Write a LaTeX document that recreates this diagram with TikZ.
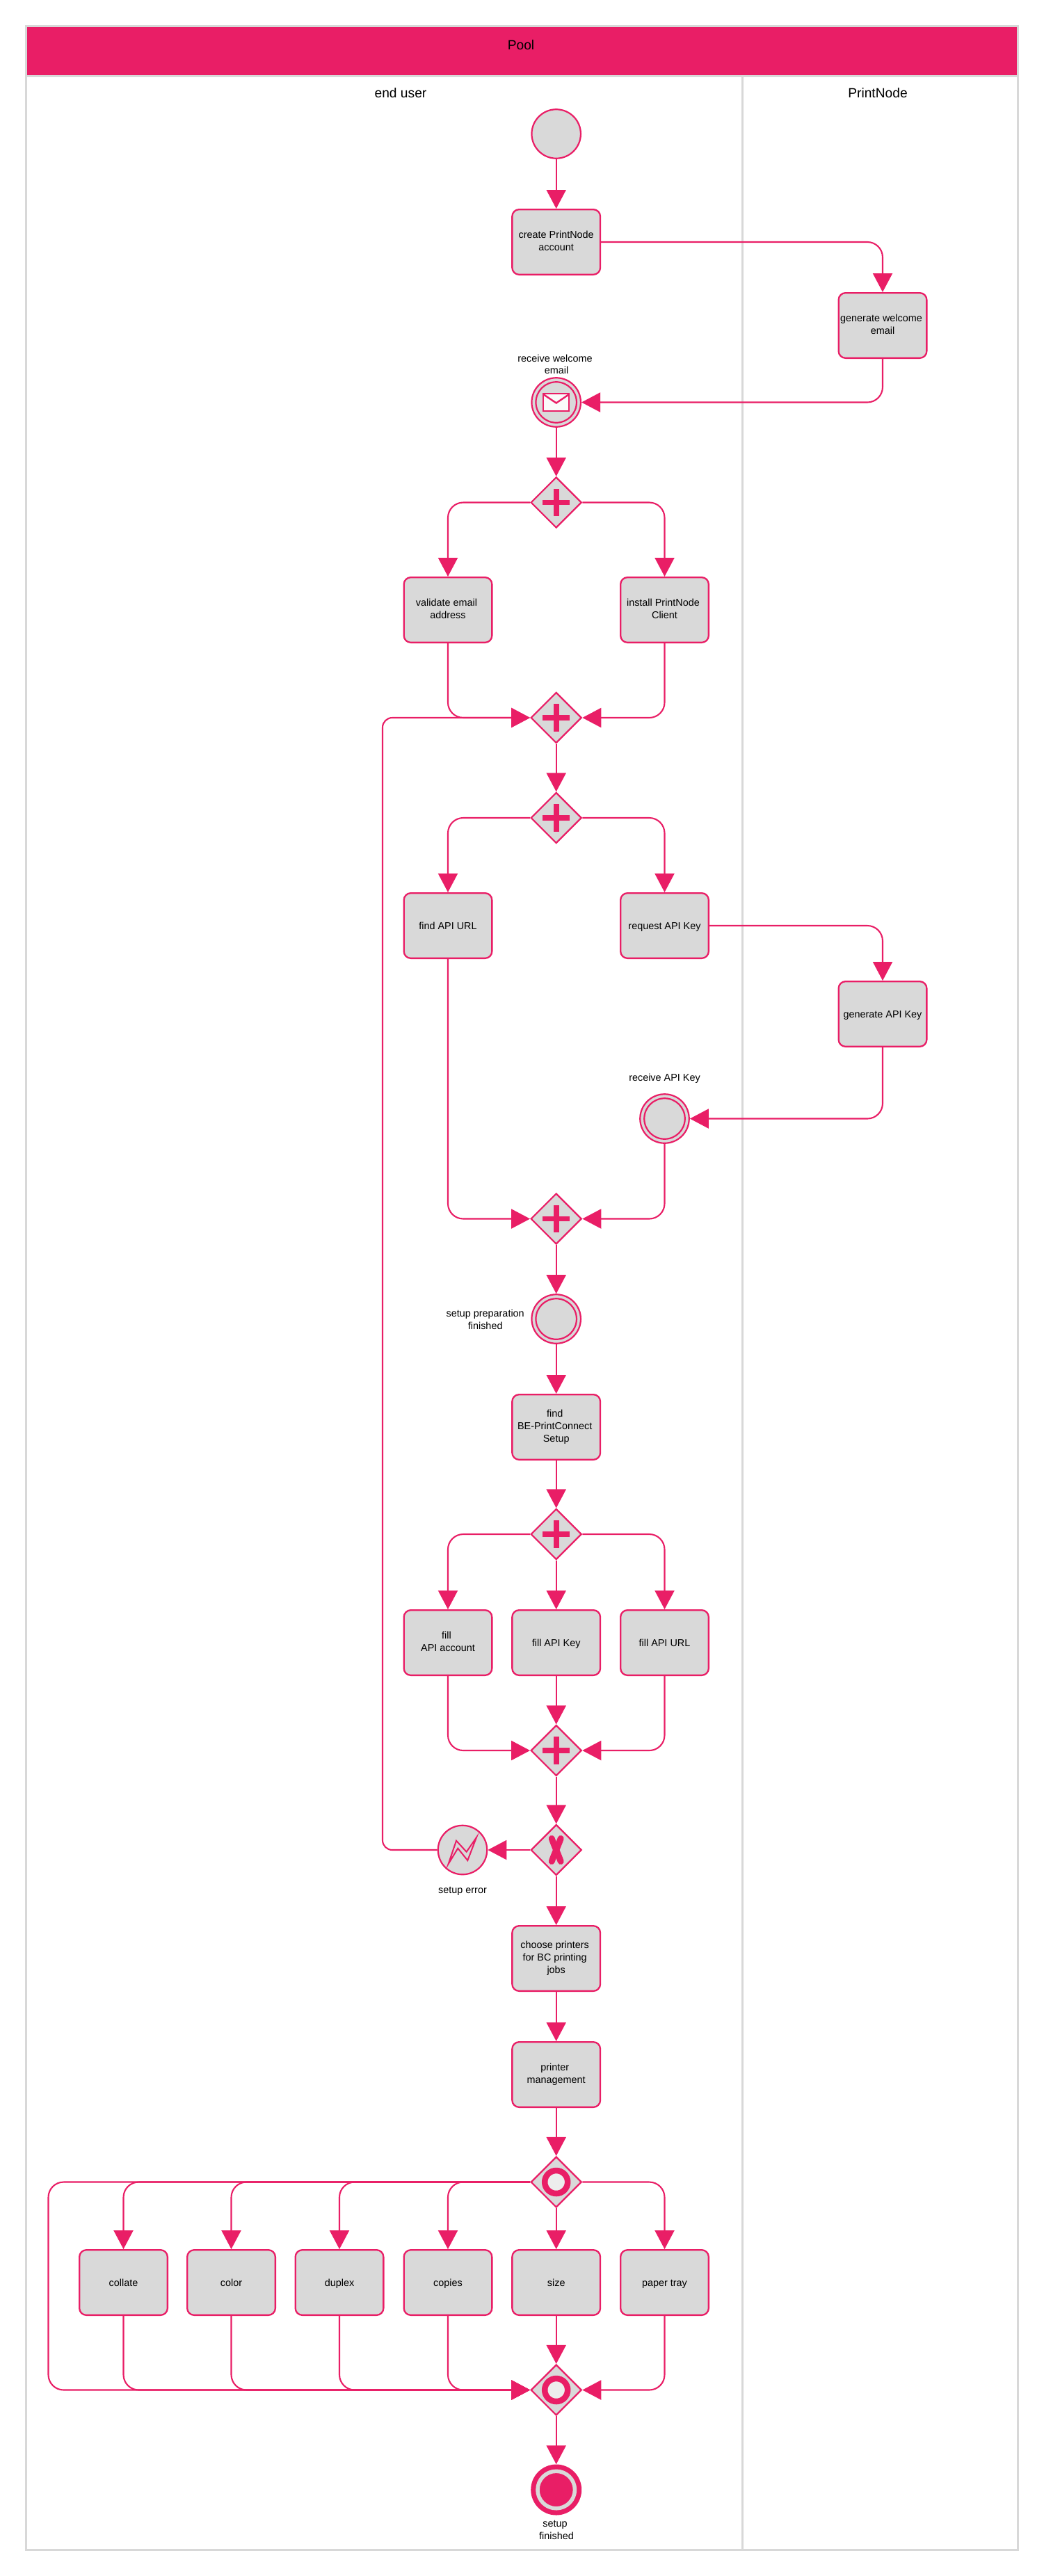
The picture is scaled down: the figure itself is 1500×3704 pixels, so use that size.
\documentclass[tikz,border=0pt]{standalone}
\usepackage{fontspec}
\setmainfont{Liberation Sans}
\usetikzlibrary{arrows.meta,shapes.geometric}
\definecolor{accent}{HTML}{E91E66}
\definecolor{boxgrey}{HTML}{D9D9D9}
\definecolor{lanegrey}{HTML}{D8D8D8}
\definecolor{ringlight}{HTML}{EDEDED}
\definecolor{envwhite}{HTML}{FAFAFA}
\newcommand{\ts}{\ \null}
\newcommand{\topstrut}{\rule{0pt}{13.5pt}}
\newcommand{\botstrut}{\rule[-2.5pt]{0pt}{2.5pt}}
\tikzset{
  poolbox/.style={draw=lanegrey,line width=3pt,inner sep=0pt,outer sep=0pt},
  headtext/.style={font=\fontsize{19.2}{23}\selectfont,text=black,inner sep=0pt,align=center},
  smalltext/.style={font=\fontsize{14.4}{17.6}\selectfont,text=black,inner sep=0pt,align=center},
  taskbox/.style={rectangle,rounded corners=10pt,draw=accent,fill=boxgrey,line width=2.3pt,
    minimum width=126.7pt,minimum height=93.7pt,inner sep=0pt,align=center,
    font=\fontsize{14.4}{18}\selectfont,text=black,
    execute at begin node=\topstrut,execute at end node=\botstrut},
  gatebox/.style={diamond,aspect=1,draw=accent,fill=boxgrey,line width=2.2pt,
    minimum width=73pt,minimum height=73pt,inner sep=0pt},
  eventbox/.style={circle,draw=accent,fill=boxgrey,line width=2.2pt,minimum size=70.5pt,inner sep=0pt},
  innerring/.style={circle,draw=accent,line width=2.2pt,minimum size=58.5pt,inner sep=0pt},
  flow/.style={draw=accent,line width=2.1pt,rounded corners=22pt,line join=round,
    -{Triangle[length=27pt,width=28pt]}},
  loopflow/.style={flow,rounded corners=14pt},
}
\newcommand{\plusmark}[1]{%
  \fill[accent] ([shift={(-19.7,-3.9)}]#1.center) rectangle ([shift={(19.7,3.9)}]#1.center);
  \fill[accent] ([shift={(-3.9,-19.7)}]#1.center) rectangle ([shift={(3.9,19.7)}]#1.center);}
\newcommand{\ringmark}[1]{%
  \node[circle,draw=accent,fill=ringlight,line width=8.5pt,minimum size=33pt,inner sep=0pt] (#1ring) at (#1.center) {};}
\begin{document}
\begin{tikzpicture}[x=1pt,y=-1pt]
\useasboundingbox (0,0) rectangle (1500,3704);
\fill[white] (0,0) rectangle (1500,3704);

% pool and lanes
\node[poolbox,minimum width=1030.5pt,minimum height=3557pt] (laneA) at (552.25,3666-1778.5) {};
\node[poolbox,minimum width=395.5pt,minimum height=3557pt] (laneB) at (1265.25,3666-1778.5) {};
\node[poolbox,fill=accent,minimum width=1426pt,minimum height=71.5pt] (poolhead) at (750,73.5) {};
\node[headtext] (pooltitle) at (749,65) {Pool};
\node[headtext] (laneAtitle) at (576,134) {end user};
\node[headtext] (laneBtitle) at (1262,134) {PrintNode};

% events and tasks
\node[eventbox] (start) at (799.7,192.5) {};
\node[taskbox] (create) at (799.7,348) {create PrintNode\\account};
\node[taskbox] (genmail) at (1269,468) {generate welcome\ts\\email};
\node[eventbox] (msg) at (799.7,578.5) {};
\node[innerring] (msgin) at (msg.center) {};
\node[smalltext] (msglabel) at (800,524) {receive welcome\ts\\email};
\draw[draw=accent,fill=envwhite,line width=2.4pt] ([shift={(-18.5,-12.5)}]msg.center) rectangle ([shift={(18.5,12.5)}]msg.center);
\draw[draw=accent,line width=2.4pt] ([shift={(-18.5,-11.5)}]msg.center) -- ([shift={(0,1)}]msg.center) -- ([shift={(18.5,-11.5)}]msg.center);

\node[gatebox] (g1) at (799.7,722.5) {};
\plusmark{g1}
\node[taskbox] (validate) at (644,877) {validate email\ts\\address};
\node[taskbox] (install) at (955.5,877) {install PrintNode\ts\\Client};
\node[gatebox] (g2) at (799.7,1032) {};
\plusmark{g2}
\node[gatebox] (g3) at (799.7,1176) {};
\plusmark{g3}
\node[taskbox] (findurl) at (644,1331) {find API URL};
\node[taskbox] (request) at (955.5,1331) {request API Key};
\node[taskbox] (genkey) at (1269,1458) {generate API Key};
\node[eventbox] (recv) at (955.5,1608.5) {};
\node[innerring] (recvin) at (recv.center) {};
\node[smalltext] (recvlabel) at (955.5,1551) {receive API Key};
\node[gatebox] (g4) at (799.7,1752.5) {};
\plusmark{g4}
\node[eventbox] (prep) at (799.7,1896.5) {};
\node[innerring] (prepin) at (prep.center) {};
\node[smalltext] (preplabel) at (697.7,1897.5) {setup preparation\\finished};
\node[taskbox] (findsetup) at (799.7,2052) {find\ts\\BE-PrintConnect\ts\\Setup};
\node[gatebox] (g5) at (799.7,2206) {};
\plusmark{g5}
\node[taskbox] (fillacc) at (644,2362) {fill\ts\\API account};
\node[taskbox] (fillkey) at (799.7,2362) {fill API Key};
\node[taskbox] (fillurl) at (955.5,2362) {fill API URL};
\node[gatebox] (g6) at (799.7,2517) {};
\plusmark{g6}
\node[gatebox] (gx) at (799.7,2660) {};
\draw[accent,line width=9pt,line cap=round] ([shift={(-6.5,-16.5)}]gx.center) .. controls ([shift={(-2,-4)}]gx.center) and ([shift={(2,4)}]gx.center) .. ([shift={(6.5,16.5)}]gx.center);
\draw[accent,line width=9pt,line cap=round] ([shift={(6.5,-16.5)}]gx.center) .. controls ([shift={(2,-4)}]gx.center) and ([shift={(-2,4)}]gx.center) .. ([shift={(-6.5,16.5)}]gx.center);
\node[eventbox] (err) at (665,2660) {};
\node[smalltext] (errlabel) at (665,2719) {setup error};
\draw[accent,line width=2pt,line join=miter]
  ([shift={(-20.3,20)}]err.center) -- ([shift={(-9,-13.3)}]err.center) -- ([shift={(5.7,2.7)}]err.center)
  -- ([shift={(20,-18)}]err.center) -- ([shift={(7.3,15)}]err.center) -- ([shift={(-6.7,-2.3)}]err.center) -- cycle;
\node[taskbox] (choose) at (799.7,2816) {choose printers\ts\\for BC printing\ts\\jobs};
\node[taskbox] (pm) at (799.7,2983) {printer\ts\\management};
\node[gatebox] (g7) at (799.7,3137.5) {};
\ringmark{g7}
\node[taskbox] (collate) at (177.5,3282) {collate};
\node[taskbox] (color) at (332.5,3282) {color};
\node[taskbox] (duplex) at (488,3282) {duplex};
\node[taskbox] (copies) at (644,3282) {copies};
\node[taskbox] (size) at (799.7,3282) {size};
\node[taskbox] (tray) at (955.5,3282) {paper tray};
\node[gatebox] (g8) at (799.7,3436.5) {};
\ringmark{g8}
\node[circle,fill=accent,minimum size=73pt,inner sep=0pt] (finish) at (799.7,3580) {};
\node[circle,draw=boxgrey,line width=5.5pt,fill=accent,minimum size=53.5pt,inner sep=0pt] (finishin) at (finish.center) {};
\node[smalltext] (finishlabel) at (800,3638) {setup\ts\\finished};

\coordinate (looperr) at (550,1800);
\coordinate (loopgate) at (69.5,3300);

% connectors
\draw[flow] (start.south) -- (create.north);
\draw[flow] (create.east) -| (genmail.north);
\draw[flow] (genmail.south) |- (msg.east);
\draw[flow] (msg.south) -- (g1.north);
\draw[flow] (g1.west) -| (validate.north);
\draw[flow] (g1.east) -| (install.north);
\draw[flow] (validate.south) |- (g2.west);
\draw[flow] (install.south) |- (g2.east);
\draw[flow] (g2.south) -- (g3.north);
\draw[flow] (g3.west) -| (findurl.north);
\draw[flow] (g3.east) -| (request.north);
\draw[flow] (request.east) -| (genkey.north);
\draw[flow] (genkey.south) |- (recv.east);
\draw[flow] (findurl.south) |- (g4.west);
\draw[flow] (recv.south) |- (g4.east);
\draw[flow] (g4.south) -- (prep.north);
\draw[flow] (prep.south) -- (findsetup.north);
\draw[flow] (findsetup.south) -- (g5.north);
\draw[flow] (g5.west) -| (fillacc.north);
\draw[flow] (g5.south) -- (fillkey.north);
\draw[flow] (g5.east) -| (fillurl.north);
\draw[flow] (fillacc.south) |- (g6.west);
\draw[flow] (fillkey.south) -- (g6.north);
\draw[flow] (fillurl.south) |- (g6.east);
\draw[flow] (g6.south) -- (gx.north);
\draw[flow] (gx.west) -- (err.east);
\draw[loopflow] (err.west) -| (looperr) |- (g2.west);
\draw[flow] (gx.south) -- (choose.north);
\draw[flow] (choose.south) -- (pm.north);
\draw[flow] (pm.south) -- (g7.north);
\draw[flow] (g7.west) -| (collate.north);
\draw[flow] (g7.west) -| (color.north);
\draw[flow] (g7.west) -| (duplex.north);
\draw[flow] (g7.west) -| (copies.north);
\draw[flow] (g7.south) -- (size.north);
\draw[flow] (g7.east) -| (tray.north);
\draw[flow] (g7.west) -| (loopgate) |- (g8.west);
\draw[flow] (collate.south) |- (g8.west);
\draw[flow] (color.south) |- (g8.west);
\draw[flow] (duplex.south) |- (g8.west);
\draw[flow] (copies.south) |- (g8.west);
\draw[flow] (size.south) -- (g8.north);
\draw[flow] (tray.south) |- (g8.east);
\draw[flow] (g8.south) -- (finish.north);
\end{tikzpicture}
\end{document}
